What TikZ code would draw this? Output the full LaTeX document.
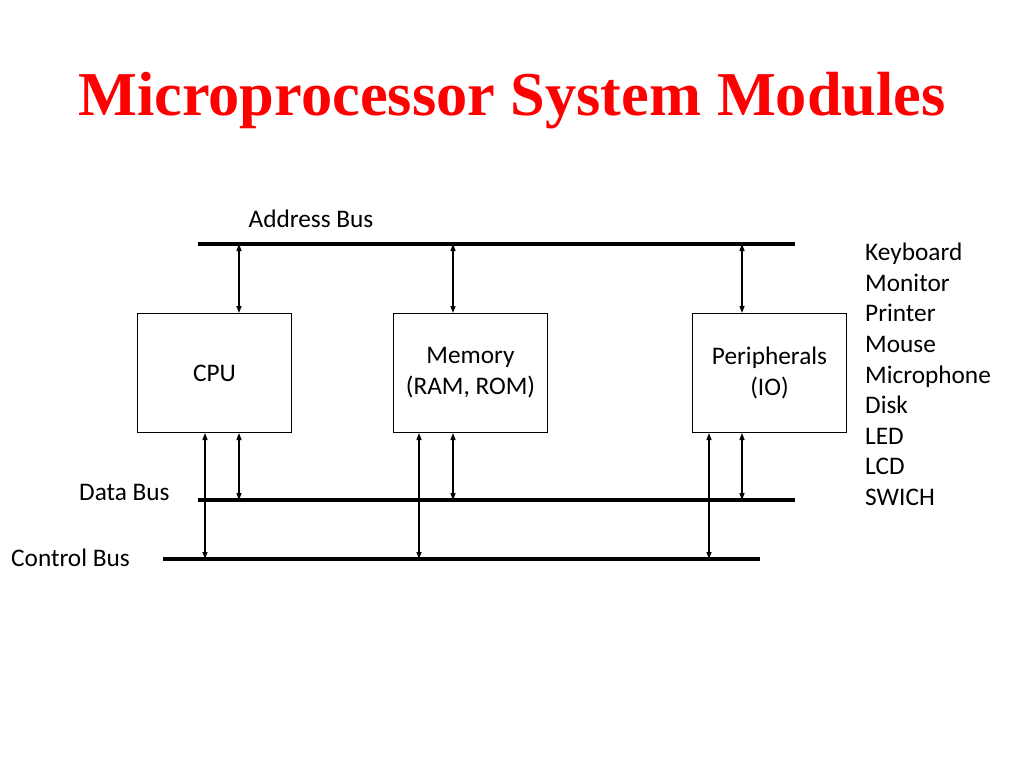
\documentclass[tikz,border=0pt]{standalone}
\usepackage{fontspec}
\setmainfont{Carlito}
\newfontfamily\titlefont{Liberation Serif}
\usetikzlibrary{arrows.meta}
\begin{document}
\begin{tikzpicture}[x=1pt,y=-1pt,
  bus/.style={line width=4pt},
  module/.style={draw,line width=1pt,minimum width=154pt,minimum height=119pt,anchor=north west,inner sep=0pt,align=center,font=\fontsize{25.3}{31}\selectfont},
  link/.style={line width=1.3pt,{Triangle[length=7pt,width=5pt]}-{Triangle[length=7pt,width=5pt]}},
  lbl/.style={font=\fontsize{25.3}{30.6}\selectfont,inner sep=0pt}]
\useasboundingbox (0,0) rectangle (1024,768);
\node[font=\titlefont\bfseries\fontsize{62.4}{70}\selectfont,text=red,inner sep=0pt] (title) at (512,101) {Microprocessor System Modules};
% buses
\coordinate (ab1) at (198,244); \coordinate (ab2) at (795,244);
\coordinate (db1) at (198,500); \coordinate (db2) at (795,500);
\coordinate (cb1) at (163,559); \coordinate (cb2) at (760,559);
\draw[bus] (ab1) -- (ab2);
\draw[bus] (db1) -- (db2);
\draw[bus] (cb1) -- (cb2);
\node[lbl] (abl) at (311,219) {Address Bus};
\node[lbl,anchor=west] (dbl) at (79,492) {Data Bus};
\node[lbl,anchor=west] (cbl) at (11,558) {Control Bus};
% modules
\node[module] (cpu) at (137,313) {CPU};
\node[module] (mem) at (393,313) {Memory\\(RAM, ROM)};
\node[module] (per) at (692,313) {Peripherals\\(IO)};
% address links
\draw[link] (cpu.north -| 239,0) -- (239,244);
\draw[link] (mem.north -| 453,0) -- (453,244);
\draw[link] (per.north -| 742,0) -- (742,244);
% data links
\draw[link] (cpu.south -| 239,0) -- (239,500);
\draw[link] (mem.south -| 453,0) -- (453,500);
\draw[link] (per.south -| 742,0) -- (742,500);
% control links
\draw[link] (cpu.south -| 205,0) -- (205,559);
\draw[link] (mem.south -| 419,0) -- (419,559);
\draw[link] (per.south -| 709,0) -- (709,559);
% device list
\node[lbl,anchor=north west,align=left] (devs) at (865,243)
 {Keyboard\\Monitor\\Printer\\Mouse\\Microphone\\Disk\\LED\\LCD\\SWICH};
\end{tikzpicture}
\end{document}
